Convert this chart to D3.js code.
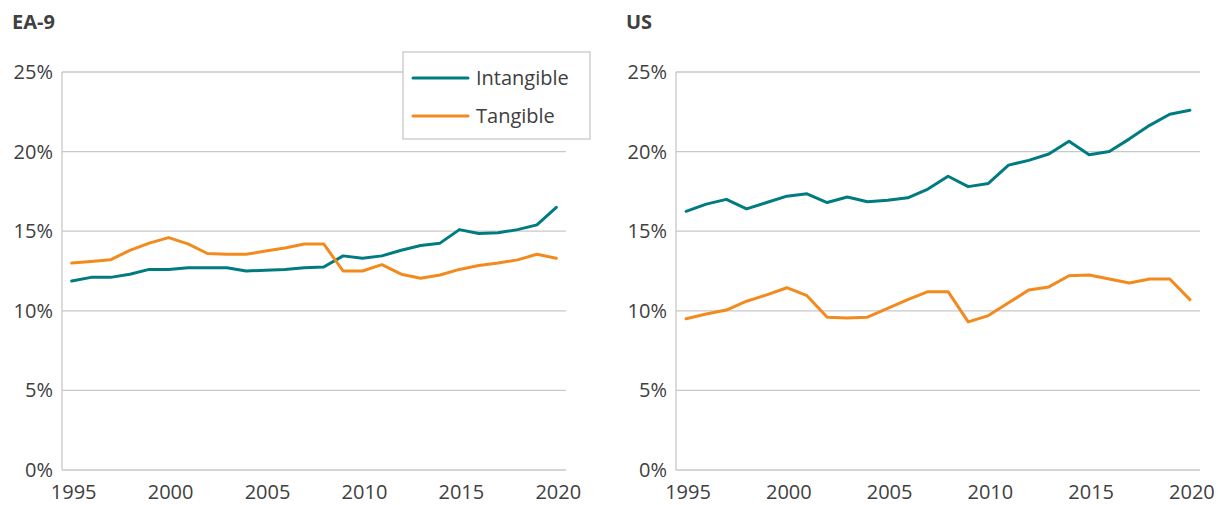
<!DOCTYPE html>
<html>
<head>
<meta charset="utf-8">
<script src="https://cdn.jsdelivr.net/npm/d3@7"></script>
<style>
  body { margin: 0; background: #fff; }
  svg text { font-family: "Open Sans", "Noto Sans", sans-serif; fill: #404040; }
</style>
</head>
<body>
<div id="chart"></div>
<script>
var years = d3.range(1995, 2021)
var xTicks = [1995, 2000, 2005, 2010, 2015, 2020]
var yTicks = [0, 5, 10, 15, 20, 25]

var eaIntangible = [11.87, 12.1, 12.1, 12.3, 12.6, 12.6, 12.7, 12.7, 12.7, 12.5, 12.55, 12.6, 12.7,
  12.75, 13.45, 13.3, 13.45, 13.8, 14.1, 14.25, 15.1, 14.85, 14.9, 15.1, 15.4, 16.5]
var eaTangible = [13.0, 13.1, 13.2, 13.8, 14.25, 14.6, 14.2, 13.6, 13.55, 13.55, 13.75, 13.95, 14.2,
  14.2, 12.5, 12.5, 12.9, 12.3, 12.05, 12.25, 12.6, 12.85, 13.0, 13.2, 13.55, 13.3]
var usIntangible = [16.25, 16.7, 17.0, 16.4, 16.8, 17.2, 17.35, 16.8, 17.15, 16.85, 16.95, 17.1, 17.65,
  18.45, 17.8, 18.0, 19.15, 19.45, 19.85, 20.65, 19.8, 20.0, 20.8, 21.65, 22.35, 22.6]
var usTangible = [9.5, 9.8, 10.05, 10.6, 11.0, 11.45, 10.95, 9.6, 9.55, 9.6, 10.15, 10.7, 11.2,
  11.2, 9.3, 9.7, 10.5, 11.3, 11.5, 12.2, 12.25, 12.0, 11.75, 12.0, 12.0, 10.7]

var seriesNames = ['Intangible', 'Tangible']
var colors = ['#007c80', '#f28a1e']

var svg = d3.select('#chart').append('svg').attr('width', 1228).attr('height', 505)

var panels = [
  {title: 'EA-9', left: 62, right: 566, series: [eaIntangible, eaTangible], legend: true},
  {title: 'US', left: 676, right: 1200, series: [usIntangible, usTangible], legend: false}
]

var plotTop = 72, plotBottom = 470

panels.forEach(function(p){
  var g = svg.append('g')
  var x = d3.scalePoint().domain(years).range([p.left, p.right]).padding(0.5)
  var y = d3.scaleLinear().domain([0, 25]).range([plotBottom, plotTop])

  g.append('text').text(p.title)
    .attr('x', p.left - 50).attr('y', 29)
    .style('font-size', '20px').style('font-weight', 'bold')

  // gridlines
  g.selectAll('line.grid').data(yTicks).enter().append('line')
    .attr('x1', p.left).attr('x2', p.right)
    .attr('y1', d => y(d)).attr('y2', d => y(d))
    .attr('stroke', '#c8c8c8').attr('stroke-width', 1.3)

  g.append('line')
    .attr('x1', p.left).attr('x2', p.left).attr('y1', plotTop).attr('y2', plotBottom)
    .attr('stroke', '#c8c8c8').attr('stroke-width', 1.3)

  g.selectAll('text.ytick').data(yTicks).enter().append('text')
    .attr('x', p.left - 9).attr('y', d => y(d) + 7)
    .attr('text-anchor', 'end')
    .style('font-size', '20px')
    .text(d => d + '%')

  g.selectAll('text.xtick').data(xTicks).enter().append('text')
    .attr('x', d => x(d) + 2).attr('y', 499)
    .attr('text-anchor', 'middle')
    .style('font-size', '20px')
    .text(d => d)

  var line = d3.line().x((d, i) => x(years[i])).y(d => y(d))

  p.series.forEach(function(s, i){
    g.append('path').attr('d', line(s))
      .attr('fill', 'none').attr('stroke', colors[i])
      .attr('stroke-width', 3).attr('stroke-linejoin', 'round').attr('stroke-linecap', 'round')
  })

  if (p.legend){
    var lg = g.append('g')
    lg.append('rect').attr('x', 403).attr('y', 52).attr('width', 187).attr('height', 87)
      .attr('fill', '#fff').attr('stroke', '#c8c8c8').attr('stroke-width', 1.3)
    seriesNames.forEach(function(n, i){
      var ly = 78 + i * 38
      lg.append('line').attr('x1', 413).attr('x2', 468).attr('y1', ly).attr('y2', ly)
        .attr('stroke', colors[i]).attr('stroke-width', 3).attr('stroke-linecap', 'round')
      lg.append('text').attr('x', 476).attr('y', ly + 7).text(n).style('font-size', '20px')
    })
  }
})
</script>
</body>
</html>
